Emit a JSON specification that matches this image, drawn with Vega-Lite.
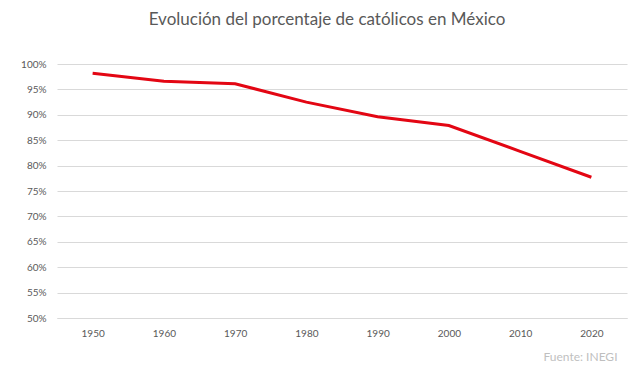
{
  "$schema": "https://vega.github.io/schema/vega-lite/v6.json",
  "width": 570,
  "height": 254,
  "autosize": {"type": "none"},
  "padding": {"left": 57, "top": 64, "right": 13, "bottom": 48},
  "background": "white",
  "title": {
    "text": "Evolución del porcentaje de católicos en México",
    "font": "Lato",
    "fontSize": 17,
    "fontWeight": "normal",
    "color": "#595959",
    "anchor": "middle",
    "offset": 30,
    "dx": -15
  },
  "config": {
    "view": {"stroke": null},
    "font": "Lato"
  },
  "data": {
    "values": [
      {"year": "1950", "pct": 98.2},
      {"year": "1960", "pct": 96.6},
      {"year": "1970", "pct": 96.1},
      {"year": "1980", "pct": 92.5},
      {"year": "1990", "pct": 89.6},
      {"year": "2000", "pct": 87.9},
      {"year": "2010", "pct": 82.8},
      {"year": "2020", "pct": 77.7}
    ]
  },
  "mark": {"type": "line", "color": "#e30613", "strokeWidth": 3},
  "encoding": {
    "x": {
      "field": "year",
      "type": "ordinal",
      "scale": {"type": "point", "padding": 0.5},
      "axis": {
        "title": "Fuente: INEGI",
        "titleAnchor": "end",
        "titleAlign": "right",
        "titleColor": "#bfbfbf",
        "titleFontWeight": "normal",
        "titleFontSize": 12,
        "titlePadding": 13,
        "titleX": 560,
        "labelAngle": 0,
        "labelFontSize": 10,
        "labelColor": "#595959",
        "labelPadding": 10,
        "ticks": false,
        "domainColor": "#d9d9d9",
        "grid": false
      }
    },
    "y": {
      "field": "pct",
      "type": "quantitative",
      "scale": {"domain": [50, 100], "nice": false, "zero": false},
      "axis": {
        "title": null,
        "values": [50, 55, 60, 65, 70, 75, 80, 85, 90, 95, 100],
        "labelExpr": "datum.value + '%'",
        "labelFontSize": 10,
        "labelColor": "#595959",
        "labelPadding": 11,
        "ticks": false,
        "domain": false,
        "gridColor": "#d9d9d9"
      }
    }
  }
}
